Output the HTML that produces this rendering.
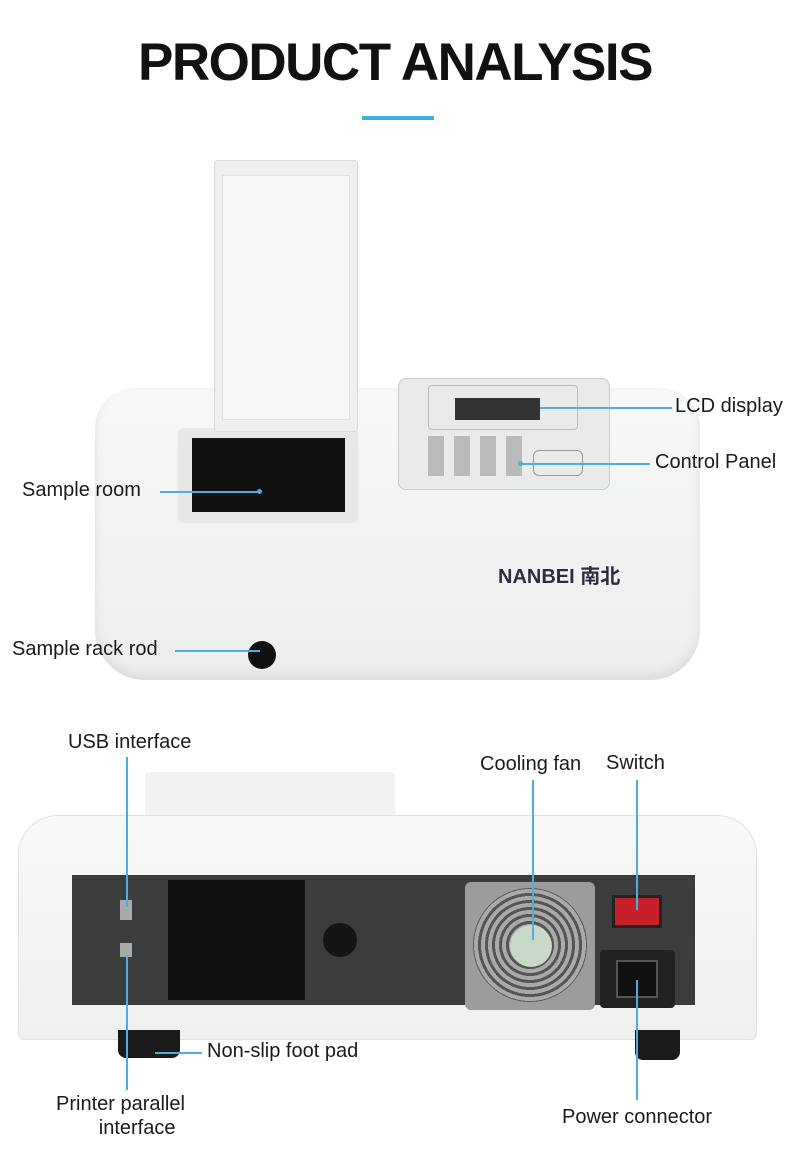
<!DOCTYPE html>
<html><head><meta charset="utf-8"><style>
*{margin:0;padding:0;box-sizing:border-box}
body{width:790px;height:1155px;background:#fff;position:relative;overflow:hidden;font-family:"Liberation Sans","Noto Sans CJK SC",sans-serif;color:#111}
.a{position:absolute}
.t{position:absolute;font-size:20px;color:#1a1a1a;white-space:nowrap}
.h{position:absolute;height:1.5px;background:#4aaee0}
.v{position:absolute;width:1.5px;background:#4aaee0}
.dot{position:absolute;width:5px;height:5px;border-radius:50%;background:#4aaee0}
</style></head><body>
<div class="a" style="left:0;width:790px;top:32px;text-align:center;font-size:53px;font-weight:bold;letter-spacing:-1.5px">PRODUCT ANALYSIS</div>
<div class="a" style="left:362px;top:116px;width:72px;height:4px;background:#3eb0e0"></div>

<div class="a" style="left:95px;top:388px;width:605px;height:292px;border-radius:40px 40px 50px 50px;background:linear-gradient(#f7f8f8,#eceeee);box-shadow:inset 0 -6px 10px #ddd"></div>
<div class="a" style="left:178px;top:428px;width:180px;height:95px;background:#e6e8e8;border-radius:6px"></div>
<div class="a" style="left:192px;top:438px;width:153px;height:74px;background:#111"></div>
<div class="a" style="left:214px;top:160px;width:144px;height:272px;background:#eef0ef;border:1px solid #d8dada;border-radius:4px"></div>
<div class="a" style="left:222px;top:175px;width:128px;height:245px;background:#f6f7f7;border:1px solid #dfe1e1"></div>
<div class="a" style="left:398px;top:378px;width:212px;height:112px;background:#e9ebea;border:1px solid #ccc;border-radius:8px"></div>
<div class="a" style="left:428px;top:385px;width:150px;height:45px;border:1px solid #bbb;border-radius:4px"></div>
<div class="a" style="left:455px;top:398px;width:85px;height:22px;background:#333"></div>
<div class="a" style="left:428px;top:436px;width:100px;height:40px;background:repeating-linear-gradient(90deg,#999 0 16px,transparent 16px 26px);opacity:.6"></div>
<div class="a" style="left:533px;top:450px;width:50px;height:26px;border:1px solid #999;border-radius:6px"></div>
<div class="a" style="left:498px;top:560px;font-size:20px;font-weight:bold;color:#2a2f3a">NANBEI 南北</div>
<div class="a" style="left:248px;top:641px;width:28px;height:28px;border-radius:50%;background:#111"></div>

<div class="h" style="left:540px;top:407px;width:132px"></div><div class="t" style="left:675px;top:395px">LCD display</div>
<div class="h" style="left:520px;top:463px;width:130px"></div><div class="dot" style="left:518px;top:461px"></div><div class="t" style="left:655px;top:451px">Control Panel</div>
<div class="h" style="left:160px;top:491px;width:100px"></div><div class="dot" style="left:257px;top:489px"></div><div class="t" style="left:22px;top:479px">Sample room</div>
<div class="h" style="left:175px;top:650px;width:85px"></div><div class="t" style="left:12px;top:638px">Sample rack rod</div>

<div class="a" style="left:145px;top:772px;width:250px;height:55px;background:#f1f2f2;border-radius:4px"></div>
<div class="a" style="left:18px;top:815px;width:739px;height:225px;border-radius:40px 40px 6px 6px;background:linear-gradient(#f8f9f9,#eeefef);border:1px solid #e0e0e0"></div>
<div class="a" style="left:118px;top:1030px;width:62px;height:28px;background:#1a1a1a;border-radius:0 0 8px 8px"></div>
<div class="a" style="left:635px;top:1030px;width:45px;height:30px;background:#1a1a1a;border-radius:0 0 8px 8px"></div>
<div class="a" style="left:72px;top:875px;width:623px;height:130px;background:#3a3c3e"></div>
<div class="a" style="left:168px;top:880px;width:137px;height:120px;background:#111"></div>
<div class="a" style="left:323px;top:923px;width:34px;height:34px;border-radius:50%;background:#151515"></div>
<div class="a" style="left:120px;top:900px;width:12px;height:20px;background:#aaa"></div>
<div class="a" style="left:120px;top:943px;width:12px;height:14px;background:#aaa"></div>
<div class="a" style="left:465px;top:882px;width:130px;height:128px;background:#9a9c9e;border-radius:6px"></div>
<div class="a" style="left:473px;top:888px;width:114px;height:114px;border-radius:50%;background:repeating-radial-gradient(circle,#555 0 3px,#aaa 3px 7px)"></div>
<div class="a" style="left:510px;top:925px;width:42px;height:42px;border-radius:50%;background:#c9d9c9"></div>
<div class="a" style="left:612px;top:895px;width:50px;height:33px;background:#c8202a;border:3px solid #222"></div>
<div class="a" style="left:600px;top:950px;width:75px;height:58px;background:#222;border-radius:4px"></div>
<div class="a" style="left:616px;top:960px;width:42px;height:38px;background:#111;border:2px solid #555"></div>

<div class="v" style="left:126px;top:757px;height:150px"></div><div class="t" style="left:68px;top:731px">USB interface</div>
<div class="v" style="left:126px;top:955px;height:135px"></div><div class="t" style="left:56px;top:1092px;text-align:center;line-height:24px">Printer parallel<br>&nbsp;&nbsp;&nbsp;&nbsp;&nbsp;&nbsp;interface</div>
<div class="h" style="left:155px;top:1052px;width:47px"></div><div class="t" style="left:207px;top:1040px">Non-slip foot pad</div>
<div class="v" style="left:532px;top:780px;height:160px"></div><div class="t" style="left:480px;top:753px">Cooling fan</div>
<div class="v" style="left:636px;top:780px;height:130px"></div><div class="t" style="left:606px;top:752px">Switch</div>
<div class="v" style="left:636px;top:980px;height:120px"></div><div class="t" style="left:562px;top:1106px">Power connector</div>
</body></html>
